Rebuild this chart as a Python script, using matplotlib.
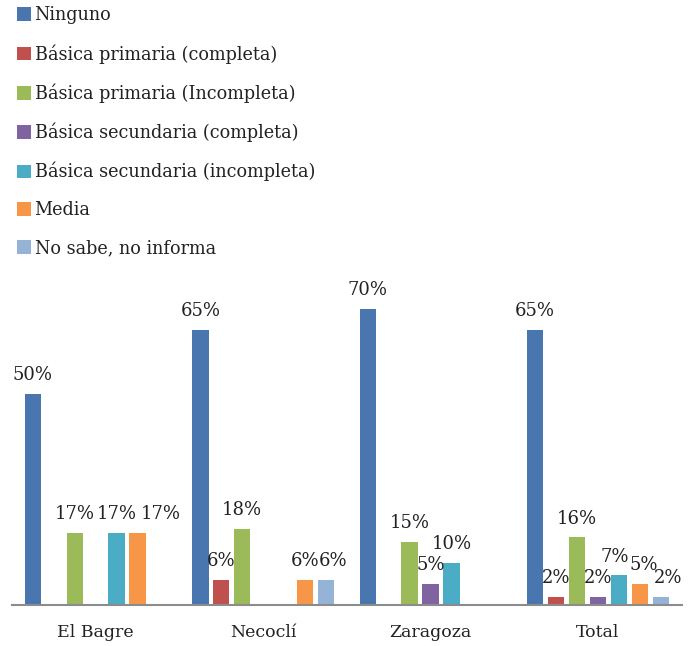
import numpy as np
import matplotlib.pyplot as plt

plt.rcParams['font.family'] = ['DejaVu Serif']

categories = ['El Bagre', 'Necoclí', 'Zaragoza', 'Total']
series = ['Ninguno', 'Básica primaria (completa)', 'Básica primaria (Incompleta)',
          'Básica secundaria (completa)', 'Básica secundaria (incompleta)',
          'Media', 'No sabe, no informa']
ninguno = [50, 65, 70, 65]
prim_comp = [0, 6, 0, 2]
prim_inc = [17, 18, 15, 16]
sec_comp = [0, 0, 5, 2]
sec_inc = [17, 0, 10, 7]
media = [17, 6, 0, 5]
no_sabe = [0, 6, 0, 2]
values = [ninguno, prim_comp, prim_inc, sec_comp, sec_inc, media, no_sabe]
colors = ['#4A76B0', '#C0504D', '#9BBB59', '#8064A2', '#4BACC6', '#F79646', '#95B3D7']

# small sideways nudges (points) for labels that Excel pushed apart
nudge = {(0, 5): 17, (1, 6): 5, (3, 4): -3, (3, 5): 3, (3, 6): 5}

fig = plt.figure(figsize=(6.89, 6.46), dpi=100)
ax = fig.add_axes([0.0174, 0.0635, 0.972, 0.491])

x = np.arange(len(categories))
step = 0.125
w = 0.098
handles = []
for k, (name, vals, c) in enumerate(zip(series, values, colors)):
    pos = x + (k - 3) * step
    h = ax.bar(pos, vals, width=w, color=c, label=name)
    handles.append(h)
    for i, (px, v) in enumerate(zip(pos, vals)):
        if v > 0:
            ax.annotate('%d%%' % v, (px, v), xytext=(nudge.get((i, k), 0), 7),
                        textcoords='offset points', ha='center', va='bottom',
                        fontsize=13, color='#222222')

ax.set_xlim(-0.5, 3.5)
ax.set_ylim(0, 75)
ax.set_xticks(x)
ax.set_xticklabels(categories, fontsize=12.5, color='#222222')
ax.tick_params(axis='x', length=0, pad=14)
ax.set_yticks([])
for s in ['top', 'right', 'left']:
    ax.spines[s].set_visible(False)
ax.spines['bottom'].set_color('#8c8c8c')
ax.spines['bottom'].set_linewidth(1.5)

fig.legend(handles=handles, loc='upper left', bbox_to_anchor=(0.024, 0.99),
           frameon=False, fontsize=12.7, handlelength=0.82, handleheight=0.82,
           handletextpad=0.2, labelspacing=1.12, borderaxespad=0, borderpad=0,
           labelcolor='#222222')

fig.savefig('out.png', dpi=100)
